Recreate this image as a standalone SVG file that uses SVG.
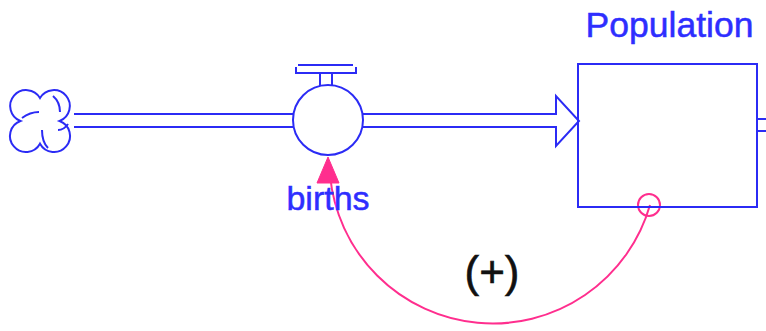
<svg xmlns="http://www.w3.org/2000/svg" width="766" height="331" viewBox="0 0 766 331">
<style>
.ln{fill:none;stroke:#2B2BF5;stroke-width:2}
.lbl{font-family:"Liberation Sans",Arial,sans-serif;fill:#2E2EFF;stroke:#2E2EFF;stroke-width:0.5}
.lnk{fill:none;stroke:#FF2E8E;stroke-width:2}
</style>
<rect width="766" height="331" fill="#fff"/>
<g id="cloud">
<path class="ln" d="M40,98 A16,16 0 1 1 59.6,121 A16,16 0 1 1 40,143.7 A16,16 0 1 1 20.4,121 A16,16 0 1 1 40,98 Z"/>
<path class="ln" d="M53,96 Q60,102 60,112"/>
<path class="ln" d="M22,118 Q30,112 39,112"/>
<path class="ln" d="M42,130 Q42,142 48,148"/>
<path class="ln" d="M58,130 Q64,130 68,124"/>
</g>
<g id="connectors">
<path class="ln" d="M74,114 H293.5 M74,127 H293.5"/>
<path class="ln" d="M362.5,114 H556 V96 L579,121 L556,146 V127 H362.5"/>
<path class="ln" d="M757,119 H766 M757,131 H766"/>
<path class="lnk" d="M650,205 A163.5,163.5 0 0 1 330,175"/>
<polygon points="328,157 317,183 339,183" fill="#FF2E8E" stroke="#FF2E8E" stroke-width="1" stroke-linejoin="round"/>
<circle class="lnk" cx="649" cy="205" r="11"/>
</g>
<g id="births">
<path class="ln" d="M298,65 H353 M296,67 V73 H356 V67 M320,73 V86 M332,73 V86"/>
<circle class="ln" cx="328" cy="120" r="35" fill="#fff"/>
<text class="lbl" x="328" y="210" font-size="34" text-anchor="middle">births</text>
</g>
<g id="population">
<rect class="ln" x="578" y="64" width="179" height="143"/>
<text class="lbl" x="669.5" y="37" font-size="35.5" text-anchor="middle">Population</text>
</g>
<g id="polarity">
<text x="492" y="287" font-family="Liberation Sans,Arial,sans-serif" font-size="44" text-anchor="middle" fill="#111" stroke="#111" stroke-width="0.6">(+)</text>
</g>
</svg>
